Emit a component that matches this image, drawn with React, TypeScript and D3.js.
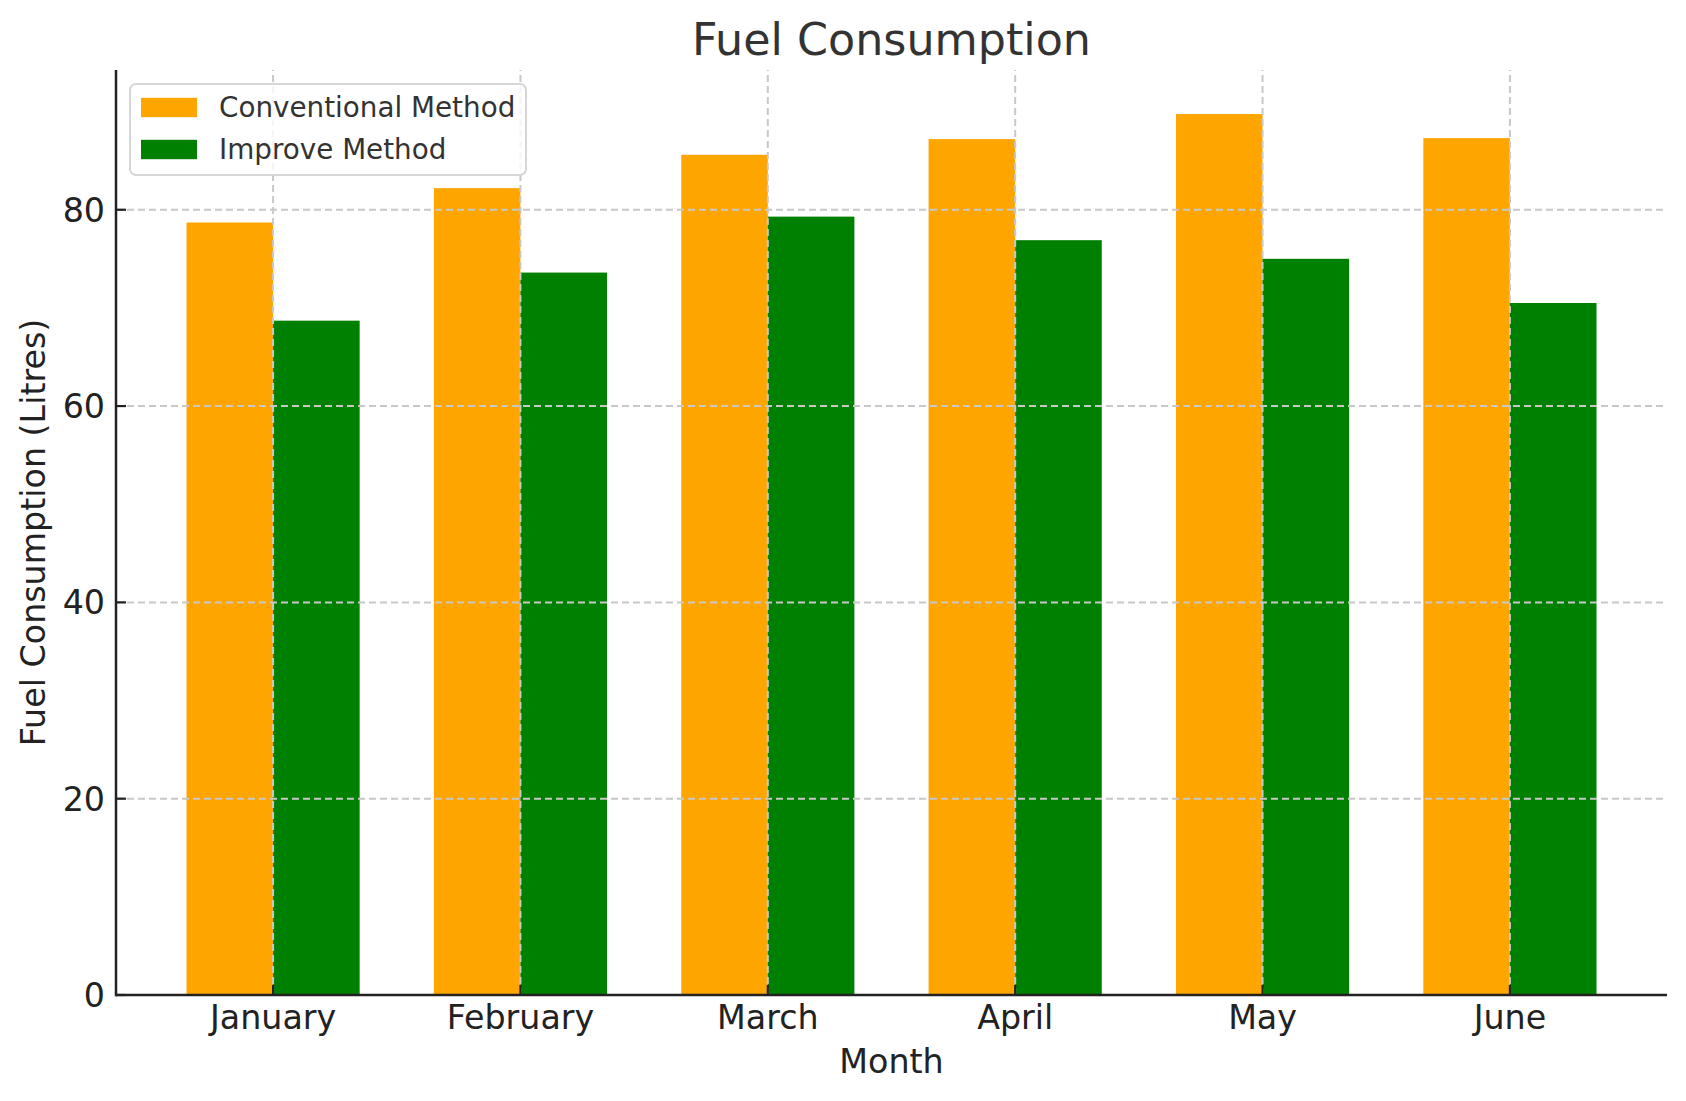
import * as d3 from "d3";

// chart data
const months = ["January", "February", "March", "April", "May", "June"];
const conventional = [78.7, 82.2, 85.6, 87.2, 89.75, 87.3];
const improved = [68.7, 73.6, 79.3, 76.9, 75.0, 70.5];
const yTicks = [0, 20, 40, 60, 80];
const seriesNames = ["Conventional Method", "Improve Method"];
const seriesColors = ["#FFA500", "#008000"];

const W = 1686;
const H = 1101;
const margin = {left: 116, right: 19, top: 70, bottom: 106};
const barWidth = 0.35;
const font = "DejaVu Sans, sans-serif";

export default function App() {
    const x = d3.scaleLinear()
        .domain([-0.635, months.length - 1 + 0.635])
        .range([margin.left, W - margin.right]);
    const yMax = d3.max([...conventional, ...improved])! * 1.05;
    const y = d3.scaleLinear()
        .domain([0, yMax])
        .range([H - margin.bottom, margin.top]);
    const [x0, x1] = x.range();
    const [y0, y1] = y.range();
    const series = [conventional, improved];
    const grid = "#c8c8c8";

    return <>
        <style>{"body{margin:0}"}</style>
        <svg width={W} height={H} style={{display: "block", fontFamily: font}}>
            <rect width={W} height={H} fill="#fff"/>
            {series.map((vals, s) =>
                vals.map((v, i) => {
                    const left = x(i + (s === 0 ? -barWidth : 0));
                    const right = x(i + (s === 0 ? 0 : barWidth));
                    return <rect key={`${s}-${i}`} x={left} y={y(v)} width={right - left}
                                 height={y0 - y(v)} fill={seriesColors[s]}/>;
                })
            )}
            {/* grid drawn over the bars, like the reference */}
            {months.map((m, i) =>
                <line key={m} x1={x(i)} x2={x(i)} y1={y0} y2={y1} stroke={grid}
                      strokeWidth={2} strokeDasharray="7,4"/>
            )}
            {yTicks.map(t =>
                <line key={t} x1={x0} x2={x1} y1={y(t)} y2={y(t)} stroke={grid}
                      strokeWidth={2} strokeDasharray="7,4"/>
            )}
            {/* spines */}
            <line x1={x0} x2={x1} y1={y0} y2={y0} stroke="#222" strokeWidth={2.5}/>
            <line x1={x0} x2={x0} y1={y0 + 1.25} y2={y1} stroke="#222" strokeWidth={2.5}/>
            {/* ticks, pointing inward */}
            {months.map((m, i) => <g key={m}>
                <line x1={x(i)} x2={x(i)} y1={y0} y2={y0 - 10} stroke="#222" strokeWidth={2.2}/>
                <text x={x(i)} y={y0 + 34} textAnchor="middle" fontSize={33.3} fill="#222">{m}</text>
            </g>)}
            {yTicks.map(t => <g key={t}>
                <line x1={x0} x2={x0 + 10} y1={y(t)} y2={y(t)} stroke="#222" strokeWidth={2.2}/>
                <text x={x0 - 11} y={y(t) + 12} textAnchor="end" fontSize={33.3} fill="#222">{t}</text>
            </g>)}
            <text x={(x0 + x1) / 2} y={1073} textAnchor="middle" fontSize={33.3} fill="#222">Month</text>
            <text transform={`translate(45,${(y0 + y1) / 2}) rotate(-90)`} textAnchor="middle"
                  fontSize={33.3} fill="#222">Fuel Consumption (Litres)</text>
            <text x={(x0 + x1) / 2} y={55} textAnchor="middle" fontSize={44.4} fill="#333">Fuel Consumption</text>
            {/* legend */}
            <g transform="translate(130,84)">
                <rect x={0} y={0} width={396} height={91} rx={6} fill="#fff" fillOpacity={0.8}
                      stroke="#d6d6d6" strokeWidth={2}/>
                {seriesNames.map((name, i) => <g key={name} transform={`translate(0,${23.5 + i * 42})`}>
                    <rect x={11} y={-9.7} width={56} height={19.4} fill={seriesColors[i]}/>
                    <text x={89} y={9.5} fontSize={27.8} fill="#333">{name}</text>
                </g>)}
            </g>
        </svg>
    </>;
}
